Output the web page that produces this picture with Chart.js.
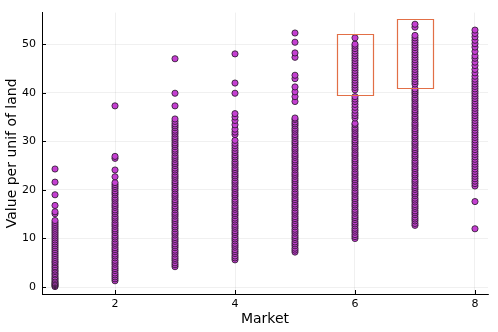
<!DOCTYPE html>
<html>
<head>
<meta charset="utf-8">
<script src="https://cdn.jsdelivr.net/npm/chart.js@4/dist/chart.umd.min.js"></script>
<style>
html,body{margin:0;padding:0;background:#fff;}
#wrap{width:498px;height:332px;}
</style>
</head>
<body>
<div id="wrap"><canvas id="c" width="498" height="332"></canvas></div>
<script>
const markets = [1,2,3,4,5,6,7,8];
const valuesM1 = [0.1,0.3,0.5,0.7,0.9,1.2,1.5,1.8,2.1,2.5,2.8,3.2,3.5,3.9,4.2,4.6,5.0,5.3,5.7,6.1,6.5,6.9,7.3,7.7,8.1,8.5,8.9,9.3,9.7,10.1,10.5,10.9,11.3,11.7,12.1,12.5,12.9,13.3,13.7,15.1,15.5,16.8,19.0,21.6,24.3];
const valuesM2 = [1.3,1.7,2.1,2.5,2.9,3.4,3.8,4.2,4.7,5.1,5.5,6.0,6.4,6.8,7.3,7.7,8.1,8.6,9.0,9.4,9.9,10.3,10.7,11.2,11.6,12.0,12.5,12.9,13.3,13.8,14.2,14.6,15.1,15.5,15.9,16.4,16.8,17.2,17.7,18.1,18.5,19.0,19.4,19.8,20.3,20.7,21.1,21.5,22.7,24.1,26.5,26.9,37.3];
const valuesM3 = [4.2,4.6,5.0,5.5,5.9,6.3,6.8,7.2,7.6,8.1,8.5,8.9,9.4,9.8,10.2,10.7,11.1,11.5,12.0,12.4,12.8,13.3,13.7,14.1,14.6,15.0,15.4,15.9,16.3,16.7,17.2,17.6,18.0,18.5,18.9,19.3,19.8,20.2,20.6,21.1,21.5,21.9,22.4,22.8,23.2,23.7,24.1,24.5,25.0,25.4,25.8,26.3,26.7,27.1,27.6,28.0,28.4,28.9,29.3,29.7,30.2,30.6,31.0,31.5,31.9,32.3,32.8,33.2,33.6,34.1,34.6,37.3,39.9,47.0];
const valuesM4 = [5.6,6.0,6.4,6.9,7.3,7.7,8.2,8.6,9.0,9.5,9.9,10.3,10.8,11.2,11.6,12.1,12.5,12.9,13.4,13.8,14.2,14.7,15.1,15.5,16.0,16.4,16.8,17.3,17.7,18.1,18.6,19.0,19.4,19.9,20.3,20.7,21.2,21.6,22.0,22.5,22.9,23.3,23.8,24.2,24.6,25.1,25.5,25.9,26.4,26.8,27.2,27.7,28.1,28.6,29.1,29.6,30.2,31.4,31.9,32.5,33.4,34.3,35.0,35.7,39.9,42.0,48.0];
const valuesM5 = [7.2,7.6,8.0,8.5,8.9,9.3,9.8,10.2,10.6,11.1,11.5,11.9,12.4,12.8,13.2,13.7,14.1,14.5,15.0,15.4,15.8,16.3,16.7,17.1,17.6,18.0,18.4,18.9,19.3,19.7,20.2,20.6,21.0,21.5,21.9,22.3,22.8,23.2,23.6,24.1,24.5,24.9,25.4,25.8,26.2,26.7,27.1,27.5,28.0,28.4,28.8,29.3,29.7,30.1,30.6,31.0,31.4,31.9,32.3,32.7,33.2,33.6,34.0,34.5,34.8,38.2,39.2,40.2,41.2,42.9,43.6,47.3,48.2,50.4,52.3];
const valuesM6 = [10.0,10.4,10.8,11.3,11.7,12.1,12.6,13.0,13.4,13.9,14.3,14.7,15.2,15.6,16.0,16.5,16.9,17.3,17.8,18.2,18.6,19.1,19.5,19.9,20.4,20.8,21.2,21.7,22.1,22.5,23.0,23.4,23.8,24.3,24.7,25.1,25.6,26.0,26.4,26.9,27.3,27.7,28.2,28.6,29.0,29.5,29.9,30.3,30.8,31.2,31.6,32.1,32.5,32.9,33.4,33.7,34.8,35.3,35.8,36.4,37.0,37.6,38.2,38.7,39.2,40.6,41.1,41.6,42.1,42.6,43.1,43.6,44.1,44.6,45.1,45.6,46.1,46.6,47.1,47.6,48.1,48.6,49.1,49.6,50.0,51.3];
const valuesM7 = [12.7,13.1,13.6,14.0,14.4,14.9,15.3,15.7,16.2,16.6,17.0,17.5,17.9,18.3,18.8,19.2,19.6,20.1,20.5,20.9,21.4,21.8,22.2,22.7,23.1,23.5,24.0,24.4,24.8,25.3,25.7,26.1,26.6,27.0,27.4,27.9,28.3,28.7,29.2,29.6,30.0,30.5,30.9,31.3,31.8,32.2,32.6,33.1,33.5,33.9,34.4,34.8,35.2,35.7,36.1,36.5,37.0,37.4,37.8,38.3,38.7,39.1,39.6,40.0,40.4,40.8,41.8,42.3,42.8,43.3,43.8,44.3,44.8,45.3,45.8,46.3,46.8,47.3,47.8,48.3,48.8,49.3,49.8,50.3,50.8,51.3,51.8,53.5,54.1];
const valuesM8 = [12.0,17.6,20.8,21.3,21.8,22.3,22.8,23.3,23.8,24.3,24.8,25.3,25.8,26.3,26.8,27.3,27.8,28.3,28.8,29.3,29.8,30.3,30.8,31.3,31.8,32.3,32.8,33.3,33.8,34.3,34.8,35.3,35.8,36.3,36.8,37.3,37.8,38.3,38.8,39.3,39.8,40.3,40.8,41.3,41.8,42.3,42.8,43.4,44.1,44.8,45.6,46.3,47.1,47.6,48.5,49.4,50.1,50.8,51.5,52.2,52.9];
const valuesByMarket = [valuesM1,valuesM2,valuesM3,valuesM4,valuesM5,valuesM6,valuesM7,valuesM8];

const xTicks = [2,4,6,8];
const yTicks = [0,10,20,30,40,50];

// highlighted boxes (data coordinates)
const boxMarkets = [6,7];
const boxLow = [39.6,41.0];
const boxHigh = [52.0,55.1];
const boxHalfWidth = 0.3;

const points = [];
markets.forEach((m,i)=>valuesByMarket[i].forEach(v=>points.push({x:m,y:v})));

const extras = {
  id:'extras',
  afterDatasetsDraw(chart){
    const {ctx, scales:{x,y}, chartArea:a} = chart;
    ctx.save();
    ctx.setLineDash([]);
    ctx.globalAlpha = 1;
    // inward tick marks
    ctx.strokeStyle='#000'; ctx.lineWidth=1;
    xTicks.forEach(t=>{const px=Math.round(x.getPixelForValue(t))+0.5;ctx.beginPath();ctx.moveTo(px,a.bottom);ctx.lineTo(px,a.bottom-4);ctx.stroke();});
    yTicks.forEach(t=>{const py=Math.round(y.getPixelForValue(t))+0.5;ctx.beginPath();ctx.moveTo(a.left,py);ctx.lineTo(a.left+4,py);ctx.stroke();});
    // boxes
    boxMarkets.forEach((m,i)=>{
      const x0=Math.round(x.getPixelForValue(m-boxHalfWidth))+0.5, x1=Math.round(x.getPixelForValue(m+boxHalfWidth))+0.5;
      const y0=Math.round(y.getPixelForValue(boxHigh[i]))+0.5, y1=Math.round(y.getPixelForValue(boxLow[i]))+0.5;
      ctx.beginPath();
      ctx.moveTo(x0,y0);ctx.lineTo(x1,y0);ctx.lineTo(x1,y1);ctx.lineTo(x0,y1);ctx.closePath();
      ctx.strokeStyle='#e26f46'; ctx.lineWidth=1.2;
      ctx.stroke();
    });
    ctx.restore();
  }
};

const font = {family:'"DejaVu Sans", sans-serif'};
new Chart(document.getElementById('c'),{
  type:'scatter',
  data:{datasets:[{
    data:points,
    pointRadius:3.1,
    pointBackgroundColor:'#c43fd1',
    pointBorderColor:'#241626',
    pointBorderWidth:0.8
  }]},
  options:{
    responsive:false,
    animation:false,
    events:[],
    layout:{padding:{left:0,right:10,top:10,bottom:0}},
    plugins:{legend:{display:false},tooltip:{enabled:false}},
    scales:{
      x:{
        type:'linear', min:0.783, max:8.217,
        afterBuildTicks:s=>{s.ticks=xTicks.map(v=>({value:v}));},
        afterFit:s=>{s.height=38;},
        grid:{color:'rgba(0,0,0,0.1)',lineWidth:0.6,drawTicks:false},
        border:{display:true,color:'#000',width:1},
        ticks:{padding:4,color:'#000',font:{...font,size:11},maxRotation:0},
        title:{display:true,text:'Market',color:'#000',font:{...font,size:14},padding:{top:0,bottom:4}}
      },
      y:{
        type:'linear', min:-1.43, max:56.5,
        afterBuildTicks:s=>{s.ticks=yTicks.map(v=>({value:v}));},
        afterFit:s=>{s.width=42;},
        grid:{color:'rgba(0,0,0,0.1)',lineWidth:0.6,drawTicks:false},
        border:{display:true,color:'#000',width:1},
        ticks:{padding:6,color:'#000',font:{...font,size:11}},
        title:{display:true,text:'Value per unif of land',color:'#000',font:{...font,size:14},padding:{top:4,bottom:0}}
      }
    }
  },
  plugins:[extras]
});
</script>
</body>
</html>
